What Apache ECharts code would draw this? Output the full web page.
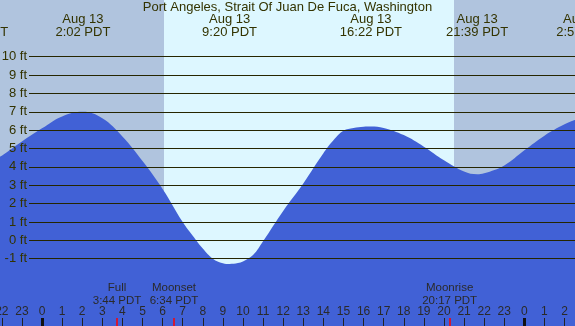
<!DOCTYPE html>
<html>
<head>
<meta charset="utf-8">
<script src="https://cdn.jsdelivr.net/npm/echarts@6/dist/echarts.min.js"></script>
<style>
  html, body { margin: 0; padding: 0; }
  #chart { width: 575px; height: 326px; }
</style>
</head>
<body>
<div id="chart"></div>
<script>
const chartTitle = "Port Angeles, Strait Of Juan De Fuca, Washington";

// tide height (ft) by hour from midnight Aug 13 (PDT)
const tideHours = [-2.09, -2, -1, 0, 1, 2.04, 3, 4, 5, 6, 7, 7.5, 8, 8.5, 9, 9.33, 9.75, 10, 10.5, 11, 12, 13, 14, 14.5, 15, 15.5, 16, 16.37, 17, 18, 19, 20, 21, 21.65, 22, 23, 24, 25, 26, 26.52];
const tideFeet = [4.55, 4.6, 5.38, 6.1, 6.75, 7.0, 6.65, 5.66, 4.32, 2.8, 1.0, 0.25, -0.45, -1.0, -1.25, -1.29, -1.24, -1.15, -0.8, -0.05, 1.6, 3.1, 4.74, 5.45, 5.97, 6.12, 6.19, 6.2, 6.12, 5.73, 5.1, 4.36, 3.75, 3.6, 3.65, 4.08, 4.9, 5.7, 6.32, 6.55];

// high / low tide labels along the top
const tideEventHours = [-3.23, 2.033, 9.333, 16.367, 21.65, 26.95];
const tideEventDays = ["Aug 12", "Aug 13", "Aug 13", "Aug 13", "Aug 13", "Aug 14"];
const tideEventTimes = ["20:46 PDT", "2:02 PDT", "9:20 PDT", "16:22 PDT", "21:39 PDT", "2:57 PDT"];

// moon events along the bottom
const moonHours = [3.733, 6.567, 20.283];
const moonNames = ["Full", "Moonset", "Moonrise"];
const moonTimes = ["3:44 PDT", "6:34 PDT", "20:17 PDT"];

const hourTicks = [-2, -1, 0, 1, 2, 3, 4, 5, 6, 7, 8, 9, 10, 11, 12, 13, 14, 15, 16, 17, 18, 19, 20, 21, 22, 23, 24, 25, 26];
const midnightTicks = [0, 24];
const feetTicks = [-1, 0, 1, 2, 3, 4, 5, 6, 7, 8, 9, 10];

const sunrise = 6.07;
const sunset = 20.5;

const xMin = -2.09, xMax = 26.52;
const yMin = -4.67, yMax = 13.09;

const textColor = "#333300";
const fontFamily = "Liberation Sans";

const chart = echarts.init(document.getElementById("chart"));

const option = {
  backgroundColor: "#b0c4de",
  animation: false,
  title: {
    text: chartTitle,
    left: "center",
    top: 0,
    padding: [1, 0, 0, 0],
    textStyle: { fontSize: 13, fontWeight: "normal", color: textColor, fontFamily: fontFamily },
  },
  grid: { left: 0, right: 0, top: 0, bottom: 0, containLabel: false, outerBoundsMode: "none" },
  xAxis: [
    {
      type: "value", min: xMin, max: xMax, position: "bottom", z: 5,
      axisLine: { show: false, onZero: false },
      splitLine: { show: false },
      axisTick: { show: true, inside: true, length: 8, customValues: hourTicks, lineStyle: { color: "#222", width: 1 } },
      axisLabel: {
        show: true, inside: true, margin: 8, customValues: hourTicks,
        fontSize: 12, color: "#2a2a2a", fontFamily: fontFamily,
        formatter: (v) => ((Math.round(v) % 24) + 24) % 24,
      },
    },
    {
      // midnight markers
      type: "value", min: xMin, max: xMax, position: "bottom", z: 5,
      axisLine: { show: false, onZero: false },
      splitLine: { show: false },
      axisTick: { show: true, inside: true, length: 8, customValues: midnightTicks, lineStyle: { color: "#111", width: 3 } },
      axisLabel: { show: false },
    },
    {
      // moon markers
      type: "value", min: xMin, max: xMax, position: "bottom", z: 6,
      axisLine: { show: false, onZero: false },
      splitLine: { show: false },
      axisTick: { show: true, inside: true, length: 8, customValues: moonHours, lineStyle: { color: "#ff0000", width: 1.5 } },
      axisLabel: {
        show: true, inside: true, margin: 19, customValues: moonHours,
        fontSize: 11.5, lineHeight: 13, color: "#2a2a2a", fontFamily: fontFamily,
        formatter: (v) => {
          const i = moonHours.indexOf(v);
          return i < 0 ? "" : moonNames[i] + "\n" + moonTimes[i];
        },
      },
    },
  ],
  yAxis: {
    type: "value", min: yMin, max: yMax, position: "left", offset: -29, z: 5,
    axisLine: { show: false, onZero: false },
    splitLine: { show: false },
    axisTick: { show: true, inside: true, length: 546, customValues: feetTicks, lineStyle: { color: "#262600", width: 1 } },
    axisLabel: {
      show: true, margin: 2, customValues: feetTicks,
      fontSize: 13, color: textColor, fontFamily: fontFamily,
      formatter: (v) => v + " ft",
    },
  },
  series: [
    {
      // daylight band
      type: "line", z: 1, silent: true,
      data: [[xMin, yMin]], symbol: "none", lineStyle: { width: 0 },
      markArea: {
        silent: true,
        itemStyle: { color: "#ddf7ff" },
        data: [[{ xAxis: sunrise }, { xAxis: sunset }]],
      },
    },
    {
      type: "line", z: 2,
      data: tideHours.map((h, i) => [h, tideFeet[i]]),
      smooth: 0.4, symbol: "none",
      lineStyle: { width: 0 },
      areaStyle: { color: "#4161d6", opacity: 1, origin: "start" },
    },
  ],
};
chart.setOption(option);

// tide event labels placed through the x scale
const graphics = tideEventHours.map((h, i) => {
  const px = chart.convertToPixel({ xAxisIndex: 0 }, h);
  return {
    type: "text", z: 10, x: px, y: 12.5,
    style: {
      text: tideEventDays[i] + "\n" + tideEventTimes[i],
      align: "center", verticalAlign: "top",
      fontSize: 13, lineHeight: 13, fill: textColor, fontFamily: fontFamily,
    },
  };
});
chart.setOption({ graphic: graphics });
</script>
</body>
</html>
